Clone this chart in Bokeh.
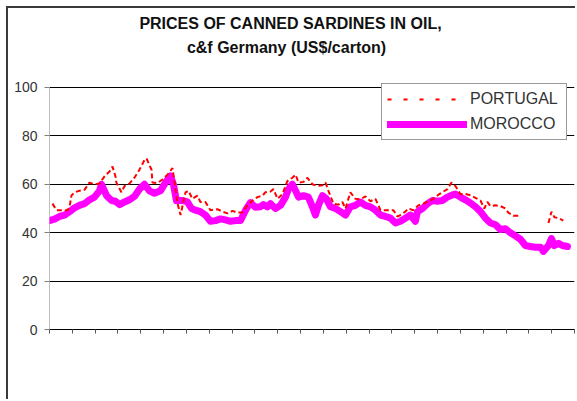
from bokeh.plotting import figure
from bokeh.models import FixedTicker, Legend, LegendItem, Range1d, Label
from bokeh.embed import file_html
from bokeh.resources import INLINE

title_line1 = "PRICES OF CANNED SARDINES IN OIL,"
title_line2 = "c&f Germany (US$/carton)"
series_names = ["PORTUGAL", "MOROCCO"]
y_ticks = [0, 20, 40, 60, 80, 100]
x_ticks = list(range(24))

# time position (in axis-tick intervals) and price (US$/carton)
morocco_t = [0.00, 0.22, 0.44, 0.66, 0.88, 1.10, 1.31, 1.53, 1.75, 1.97, 2.19, 2.28,
             2.50, 2.72, 2.89, 3.07, 3.29, 3.50, 3.72, 3.94, 4.16, 4.38, 4.60, 4.86,
             5.08, 5.30, 5.43, 5.56, 5.83, 6.04, 6.22, 6.40, 6.61, 6.83, 7.05, 7.27,
             7.49, 7.71, 7.93, 8.15, 8.37, 8.59, 8.80, 9.02, 9.24, 9.37, 9.55, 9.68,
             9.90, 10.12, 10.34, 10.47, 10.64, 10.78, 10.91, 11.13, 11.34, 11.52, 11.65,
             11.78, 11.96, 12.13, 12.31, 12.53, 12.75, 12.97, 13.18, 13.40, 13.62, 13.84,
             14.06, 14.28, 14.50, 14.72, 14.94, 15.16, 15.37, 15.59, 15.81, 16.03, 16.12,
             16.34, 16.56, 16.78, 17.00, 17.21, 17.43, 17.65, 17.78, 18.00, 18.22, 18.44,
             18.66, 18.88, 19.10, 19.32, 19.54, 19.75, 19.97, 20.19, 20.41, 20.63, 20.85,
             21.07, 21.29, 21.51, 21.64, 21.86, 21.99, 22.12, 22.30, 22.47, 22.69]
morocco_v = [45.0, 45.6, 46.7, 47.3, 48.7, 50.3, 51.3, 52.0, 53.6, 54.7, 57.3, 60.0,
             55.3, 53.3, 53.0, 51.6, 52.7, 53.6, 55.0, 58.0, 60.0, 57.3, 56.3, 57.3,
             60.7, 63.5, 60.0, 53.3, 53.3, 52.7, 50.0, 49.3, 48.7, 47.3, 44.7, 45.0,
             45.7, 45.3, 44.7, 45.0, 45.0, 49.3, 52.4, 50.5, 50.7, 51.6, 50.7, 52.0,
             50.0, 51.3, 54.7, 58.0, 60.0, 57.3, 54.7, 55.3, 54.7, 50.7, 47.3,
             51.3, 55.3, 54.0, 50.7, 50.0, 48.7, 47.3, 50.7, 51.3, 52.7, 51.3,
             50.7, 49.3, 47.3, 46.7, 46.0, 44.0, 44.7, 46.0, 47.3, 44.7, 48.7,
             50.0, 52.0, 53.3, 53.0, 53.3, 54.7, 55.6, 56.0, 54.7, 53.6, 52.3,
             50.7, 48.7, 46.0, 44.0, 43.3, 41.3, 41.6, 40.0, 38.7, 37.3, 34.7,
             34.3, 34.0, 34.0, 32.3, 34.7, 37.6, 34.7, 35.6, 34.7, 34.3]

nan = float("nan")
portugal_t = [0.13, 0.31, 0.57, 0.79, 0.88, 0.96, 1.10, 1.31, 1.53, 1.75, 1.97, 2.19,
              2.41, 2.63, 2.76, 2.89, 2.93, 3.15, 3.29, 3.50, 3.72, 3.94, 4.16, 4.25,
              4.47, 4.51, 4.73, 4.95, 5.17, 5.39, 5.61, 5.74, 5.96, 6.09, 6.26, 6.48,
              6.61, 6.83, 7.05, 7.36, 7.58, 7.80, 8.02, 8.23, 8.45, 8.67, 8.89, 9.11,
              9.33, 9.46, 9.68, 9.81, 9.99, 10.21, 10.42, 10.64, 10.78, 10.91, 11.13,
              11.30, 11.52, 11.74, 11.96, 12.09, 12.22, 12.44, 12.66, 12.83, 12.97, 13.18,
              13.40, 13.62, 13.84, 14.06, 14.28, 14.50, 14.72, 14.94, 15.07, 15.24, 15.37,
              15.59, 15.72, 15.94, 16.16, 16.38, 16.60, 16.82, 17.04, 17.26, 17.43, 17.61,
              17.78, 18.00, 18.22, 18.44, 18.66, 18.88, 19.05, 19.18, 19.32, 19.54, 19.75,
              19.97, 20.10, 20.32, 20.54, 21.20, 21.86, 21.99, 22.12, 22.30, 22.51]
portugal_v = [52.0, 49.3, 49.3, 49.3, 50.7, 55.3, 56.7, 57.3, 57.7, 60.7, 60.0, 60.3,
              63.3, 65.3, 67.3, 63.3, 60.7, 56.7, 59.3, 60.3, 62.7, 66.0, 70.0, 70.7,
              66.0, 60.7, 60.5, 62.0, 64.0, 66.7, 52.0, 47.3, 56.7, 57.3, 54.0, 55.3,
              52.7, 52.7, 49.3, 49.7, 48.7, 48.0, 49.0, 48.3, 48.3, 51.3, 53.3, 54.7,
              55.3, 56.7, 57.0, 58.0, 54.0, 56.0, 61.3, 62.7, 64.0, 60.7, 61.0,
              62.7, 60.0, 59.3, 59.6, 60.7, 57.3, 52.0, 51.6, 52.7, 50.0, 56.7,
              54.0, 53.8, 55.0, 53.0, 54.0, 49.3, 49.3, 49.3, 49.3, 46.7, 47.3,
              48.7, 50.0, 49.3, 51.3, 52.0, 53.0, 54.0, 55.7, 57.0, 58.0, 60.7,
              59.3, 56.0, 56.0, 55.5, 54.4, 53.3, 50.0, 52.7, 51.0, 51.3, 51.0,
              50.0, 48.3, 47.0, 47.0, nan, 44.0, 48.7, 46.4, 46.0, 45.0]

FONT = "Liberation Sans"

# the frame reaches the top of the chart so that the title (drawn as labels) is not clipped;
# the value scale 0-100 keeps its place in the lower part
p = figure(width=569, height=393, x_range=Range1d(0, 23), y_range=Range1d(0, 132.64),
           output_backend="svg", toolbar_location=None,
           min_border_left=41, min_border_right=3, min_border_top=0, min_border_bottom=72)
p.margin = (8, 0, 0, 8)
p.styles = {"box-shadow": "-2px -2px 0 0 #3a3a3a"}
p.outline_line_color = None
p.background_fill_color = "white"
p.border_fill_color = "white"

p.xaxis.ticker = FixedTicker(ticks=x_ticks)
p.xaxis.major_label_overrides = {t: "" for t in x_ticks}
p.xaxis.major_tick_out = 4
p.xaxis.major_tick_in = 0
p.xaxis.minor_tick_line_color = None
p.xaxis.axis_line_color = "black"
p.xaxis.major_tick_line_color = "#555555"

p.yaxis.ticker = FixedTicker(ticks=y_ticks)
p.yaxis.axis_line_color = None
p.yaxis.major_tick_line_color = "#808080"
p.yaxis.major_tick_out = 5
p.yaxis.major_tick_in = 0
p.yaxis.minor_tick_line_color = None
p.yaxis.major_label_standoff = 7
p.yaxis.major_label_text_font = FONT
p.yaxis.major_label_text_font_size = "14px"
p.yaxis.major_label_text_color = "#333333"

p.xgrid.visible = False
p.ygrid.ticker = FixedTicker(ticks=[20, 40, 60, 80, 100])
p.ygrid.grid_line_color = "black"
p.ygrid.grid_line_width = 1

# value-axis line, only over the 0-100 scale
p.segment(x0=[x_ticks[0]], y0=[min(y_ticks)], x1=[x_ticks[0]], y1=[max(y_ticks)],
          line_color="#808080", line_width=1)

mor = p.line(morocco_t, morocco_v, line_color="#FF00FF", line_width=7,
             line_cap="round", line_join="round")
por = p.line(portugal_t, portugal_v, line_color="#FF0000", line_width=2, line_dash="5 3")
# off-range copy used only for the legend sample (wider dash spacing as in the original)
por_leg = p.line([-10, -9], [50, 50], line_color="#FF0000", line_width=2, line_dash="4 12")

legend = Legend(items=[LegendItem(label=series_names[0], renderers=[por_leg]),
                       LegendItem(label=series_names[1], renderers=[mor])],
                location=(332, 189), border_line_color="#333333", border_line_width=1,
                background_fill_color="white", background_fill_alpha=1.0,
                padding=5, spacing=5, margin=0, glyph_width=80, glyph_height=20,
                label_height=20, label_width=91, label_standoff=3,
                label_text_font=FONT, label_text_font_size="16px",
                label_text_color="#333333")
p.add_layout(legend)

for txt, vx, vy in [(title_line1, 241, 306), (title_line2, 237, 282)]:
    p.add_layout(Label(x=vx, y=vy, x_units="screen", y_units="screen", text=txt,
                       text_align="center", text_baseline="middle", text_font=FONT,
                       text_font_size="16px", text_font_style="bold", text_color="#111111"))

open("out.html", "w").write(file_html(p, INLINE))
